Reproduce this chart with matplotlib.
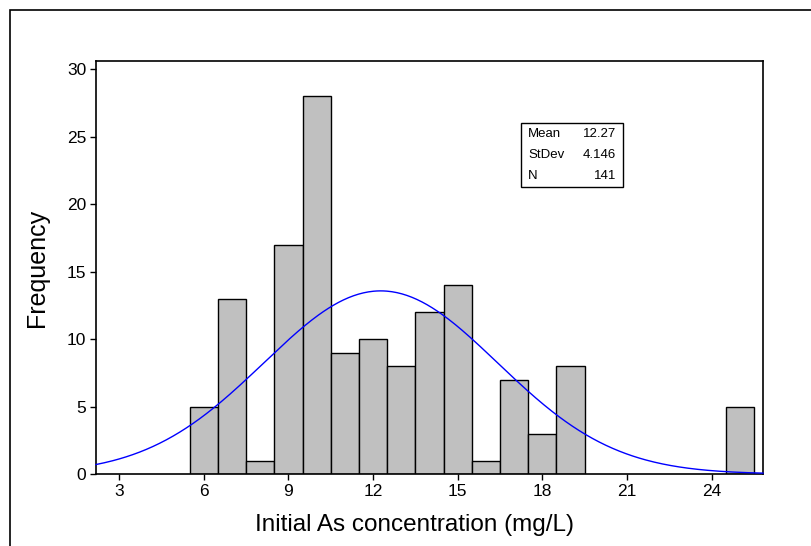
import numpy as np
import matplotlib.pyplot as plt
from matplotlib.patches import Rectangle

plt.rcParams['font.family'] = ['Liberation Sans', 'DejaVu Sans']

# histogram bins (width 1) and counts
bin_edges = [5.5, 6.5, 7.5, 8.5, 9.5, 10.5, 11.5, 12.5, 13.5, 14.5, 15.5,
             16.5, 17.5, 18.5, 19.5, 20.5, 21.5, 22.5, 23.5, 24.5, 25.5]
counts = [5, 13, 1, 17, 28, 9, 10, 8, 12, 14, 1, 7, 3, 8, 0, 0, 0, 0, 0, 5]

mean = 12.27
stdev = 4.146
n_obs = 141
xticks = [3, 6, 9, 12, 15, 18, 21, 24]
yticks = [0, 5, 10, 15, 20, 25, 30]

fig = plt.figure(figsize=(8.12, 5.46), dpi=100)
ax = fig.add_axes([96 / 812, 1 - 474 / 546, (763 - 96) / 812, (474 - 61) / 546])

# outer frame of the figure
fig.patches.append(Rectangle((10 / 812, -0.05), 1.0, 1 - 10 / 546 + 0.05,
                             transform=fig.transFigure, fill=False,
                             edgecolor='black', linewidth=1.2))

lefts = np.array(bin_edges[:-1])
widths = np.diff(bin_edges)
for l, w, c in zip(lefts, widths, counts):
    if c > 0:
        ax.bar(l, c, width=w, align='edge', color='#c0c0c0',
               edgecolor='black', linewidth=1.0, zorder=2)

# fitted normal curve scaled to counts
xs = np.linspace(2.18, 25.82, 400)
bw = 1.0
ys = n_obs * bw / (stdev * np.sqrt(2 * np.pi)) * np.exp(-0.5 * ((xs - mean) / stdev) ** 2)
ax.plot(xs, ys, color='#0000ff', linewidth=1.0, zorder=3, clip_on=False)

ax.set_xlim(2.18, 25.82)
ax.set_ylim(0, 30.6)
ax.set_xticks(xticks)
ax.set_yticks(yticks)
ax.tick_params(direction='out', length=4, width=1, labelsize=12.5, pad=3)
for s in ax.spines.values():
    s.set_linewidth(1.2)

ax.set_xlabel('Initial As concentration (mg/L)', fontsize=17.5, labelpad=11)
ax.xaxis.label.set_x(0.478)
ax.set_ylabel('Frequency', fontsize=18, labelpad=13)

# stats box
box = Rectangle((521 / 812, 1 - 187 / 546), (623 - 521) / 812, (187 - 123) / 546,
                transform=fig.transFigure, fill=False, edgecolor='black', linewidth=1.0)
fig.patches.append(box)
rows = [('Mean', '%.2f' % mean), ('StDev', '%.3f' % stdev), ('N', '%d' % n_obs)]
for i, (k, v) in enumerate(rows):
    yy = 1 - (134 + i * 21) / 546
    fig.text(528 / 812, yy, k, fontsize=9.5, va='center', ha='left')
    fig.text(616 / 812, yy, v, fontsize=9.5, va='center', ha='right')

fig.savefig('out.png', dpi=100)
